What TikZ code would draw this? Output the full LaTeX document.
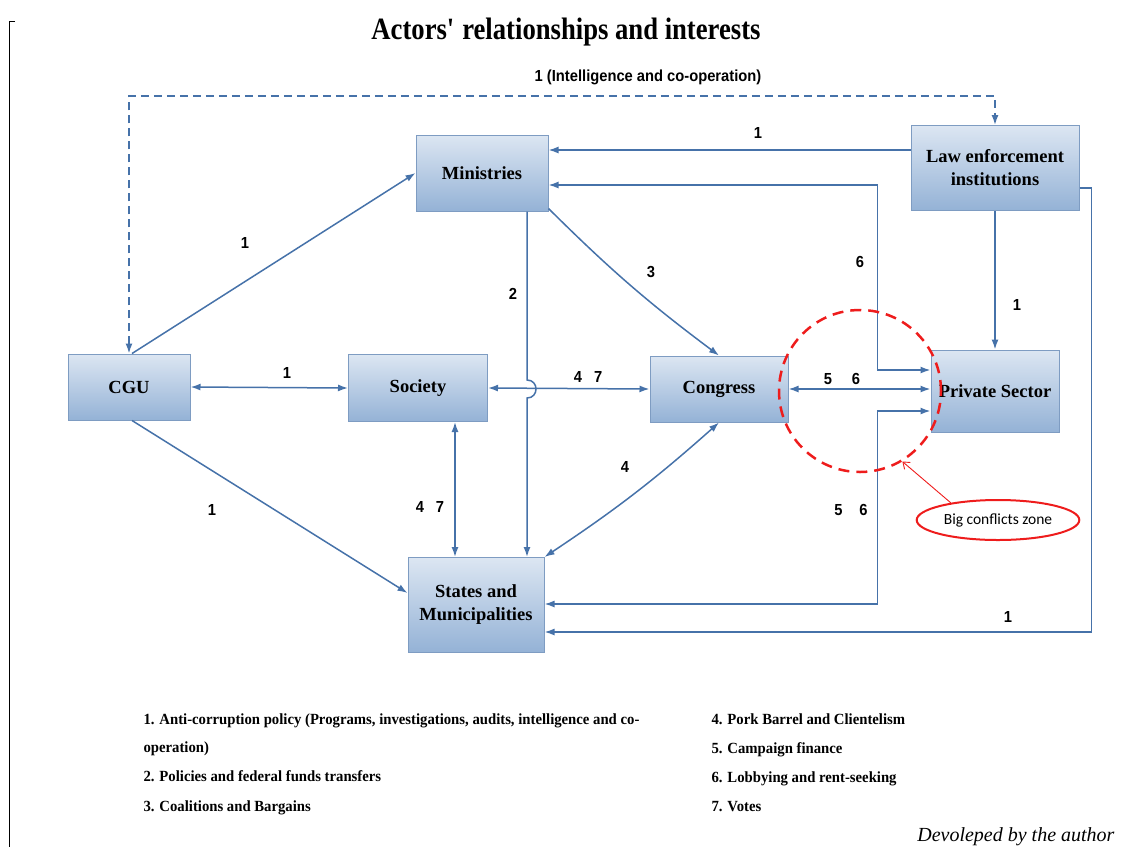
\documentclass[tikz,border=0pt]{standalone}
\usepackage{fontspec}
\setmainfont{Liberation Serif}
\newfontfamily\lblfont[FakeStretch=0.92]{Liberation Sans}
\newfontfamily\titlefont[FakeStretch=0.86]{Liberation Serif}
\newfontfamily\legfont[FakeStretch=0.95]{Liberation Serif}
\newfontfamily\zonefont{Carlito}
\usetikzlibrary{arrows.meta,shapes.geometric}
\definecolor{boxtop}{HTML}{DCE6F2}
\definecolor{boxbot}{HTML}{94B2D6}
\definecolor{boxline}{HTML}{7E9CC2}
\definecolor{linkcol}{HTML}{4672A9}
\definecolor{zonered}{HTML}{EE1C1C}
\begin{document}
\begin{tikzpicture}[x=1pt,y=-1pt,
    actor/.style={draw=boxline, line width=1pt, top color=boxtop, bottom color=boxbot,
      align=center, inner sep=2pt, font=\bfseries\fontsize{18.5}{23}\selectfont},
    link/.style={draw=linkcol, line width=1.5pt, -{Latex[length=10pt,width=7pt]}},
    twoway/.style={link, {Latex[length=10pt,width=7pt]}-{Latex[length=10pt,width=7pt]}},
    num/.style={font=\lblfont\bfseries\fontsize{16}{18}\selectfont},
    legend/.style={anchor=base west, font=\legfont\bfseries\fontsize{15.5}{17}\selectfont}]
    \useasboundingbox (0,0) rectangle (1124,847);
    % Borde izquierdo
    \draw[line width=0.8pt] (15,21) -- (9,21) -- (9,847);
    % Titulo
    \node (title) at (566,32) {\titlefont\bfseries\fontsize{31}{33}\selectfont Actors\textquotesingle{} relationships and interests};
    % Actores
    \node[actor, minimum width=132pt, minimum height=76pt] (min) at (482,173) {Ministries};
    \node[actor, minimum width=168pt, minimum height=85pt] (le) at (995,168) {Law enforcement\\institutions};
    \node[actor, minimum width=122pt, minimum height=66pt] (cgu) at (129,387) {CGU};
    \node[actor, minimum width=139pt, minimum height=67pt] (soc) at (418,388) {Society};
    \node[actor, minimum width=138pt, minimum height=66pt] (con) at (719,389) {Congress};
    \node[actor, minimum width=128pt, minimum height=82pt] (ps) at (995,391) {Private Sector};
    \node[actor, minimum width=136pt, minimum height=95pt] (sm) at (476,605) {States and\\Municipalities};
    % Linea discontinua superior
    \coordinate (dtop) at (560,96);
    \draw[twoway, dash pattern=on 8pt off 5pt] (cgu.north) |- (dtop) -| (le.north);
    \node[num] (lintel) at (648,77) {1 (Intelligence and co-operation)};
    % Desde CGU
    \draw[link] ([xshift=3pt]cgu.north) -- (min.west);
    \node[num] (lcgumin) at (245,243) {1};
    \draw[twoway] (cgu.east) -- (soc.west);
    \node[num] (lcgusoc) at (287,373) {1};
    \draw[link] ([xshift=3pt]cgu.south) -- ([yshift=12pt]sm.west);
    \node[num] (lcgusm) at (212,510) {1};
    % Society
    \draw[twoway] ([xshift=37pt]soc.south) -- ([xshift=37pt]soc.south |- sm.north);
    \node[num] (lsocsm) at (430,507) {4\hspace{12pt}7};
    \draw[twoway] (soc.east) -- (con.west);
    \node[num] (lsoccon) at (588,377) {4\hspace{12pt}7};
    % Ministries
    \coordinate (hopa) at (527,380);
    \coordinate (hopb) at (527,398);
    \draw[link] ([xshift=45pt]min.south) -- (hopa) .. controls +(12,0) and +(12,0) .. (hopb) -- (hopb |- sm.north);
    \node[num] (lminsm) at (513,294) {2};
    \draw[link] ([yshift=3pt]min.south east) to[bend right=4] (con.north);
    \node[num] (lmincon) at (651,272) {3};
    \draw[twoway] (con.south) to[bend left=4] (sm.north east);
    \node[num] (lconsm) at (625,467) {4};
    % Law enforcement
    \draw[link] ([yshift=18pt]le.west) -- ([yshift=18pt]le.west -| min.east);
    \node[num] (llemin) at (758,133) {1};
    \draw[link] (le.south) -- (ps.north);
    \node[num] (lleps) at (1017,305) {1};
    \draw[link] ([yshift=-20pt]le.east) -- ++(12,0) |- ([yshift=-27pt]sm.east);
    \node[num] (llesm) at (1008,617) {1};
    % Private Sector
    \draw[twoway] ([yshift=-12pt]min.east) -- ++(329,0) |- ([yshift=21pt]ps.west);
    \node[num] (lminps) at (860,262) {6};
    \draw[twoway] (con.east) -- (con.east -| ps.west);
    \node[num] (lconps) at (842,379) {5\hspace{20pt}6};
    \draw[twoway] ([yshift=1pt]sm.east) -- ++(333,0) |- ([yshift=-20pt]ps.west);
    \node[num] (lsmps) at (851,510) {5\hspace{17pt}6};
    % Zona de conflicto
    \node[circle, draw=zonered, line width=2.5pt, dash pattern=on 11pt off 7pt, minimum size=162pt] (zone) at (860,391) {};
    \node[ellipse, draw=zonered, line width=2pt, minimum width=156pt, minimum height=40pt,
      font=\zonefont\fontsize{15.5}{17}\selectfont] (zonelbl) at (998,520) {Big conflicts zone};
    \draw[zonered, line width=0.9pt, -{Straight Barb[length=6pt,width=9pt]}] (zonelbl.160) -- (zone.-59);
    % Leyenda
    \node[legend] (leg1) at (140,724) {1. Anti-corruption policy (Programs, investigations, audits, intelligence and co-};
    \node[legend] (leg1b) at (140,752) {operation)};
    \node[legend] (leg2) at (140,781) {2. Policies and federal funds transfers};
    \node[legend] (leg3) at (140,811) {3. Coalitions and Bargains};
    \node[legend] (leg4) at (708,724) {4. Pork Barrel and Clientelism};
    \node[legend] (leg5) at (708,753) {5. Campaign finance};
    \node[legend] (leg6) at (708,782) {6. Lobbying and rent-seeking};
    \node[legend] (leg7) at (708,811) {7. Votes};
    \node[anchor=base east, font=\itshape\fontsize{20}{22}\selectfont] (author) at (1118,841) {Devoleped by the author};
\end{tikzpicture}
\end{document}
